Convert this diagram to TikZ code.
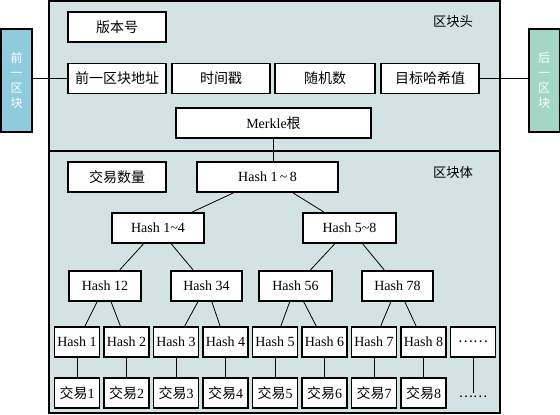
\documentclass[tikz,border=0pt]{standalone}
\usepackage{fontspec}
\setmainfont{Liberation Serif}
\newfontfamily\cjk{Noto Sans CJK SC}
\usepackage{tikz}
\usetikzlibrary{positioning,calc}
\definecolor{panelbg}{HTML}{D3E2E2}
\definecolor{prevblue}{HTML}{90CBDD}
\definecolor{nextgreen}{HTML}{A3D6C5}
\tikzset{
	panel/.style={draw=black, line width=1.5pt, fill=panelbg},
	fieldbox/.style={rectangle, draw=black, line width=1.4pt, fill=white,
		minimum width=73.5pt, minimum height=22.5pt, inner sep=0pt, align=center,
		font=\fontsize{10.5}{12}\selectfont},
	leafbox/.style={fieldbox, minimum width=33.75pt},
	chainbox/.style={rectangle, draw=black, line width=1.5pt, minimum width=23.25pt,
		minimum height=77.25pt, inner sep=0pt, align=center, text=white,
		font=\cjk\fontsize{9}{11.25}\selectfont},
	tag/.style={inner sep=0pt, font=\cjk\fontsize{10}{12}\selectfont},
	link/.style={draw=black, line width=0.6pt}
}

\begin{document}
\begin{tikzpicture}[x=0.75pt, y=-0.75pt]
	\useasboundingbox (0,0) rectangle (560,414);
	% block header and block body
	\draw[panel] (49,1) rectangle (500,151);
	\draw[panel] (49,151) rectangle (500,413);
	\node[tag] (headtag) at (453,22) {区块头};
	\node[tag] (bodytag) at (453,172) {区块体};
	% neighbouring blocks
	\node[chainbox, fill=prevblue] (prevblk) at (16.5,80.5) {前\\一\\区\\块};
	\node[chainbox, fill=nextgreen] (nextblk) at (544,80.5) {后\\一\\区\\块};
	% header fields
	\node[fieldbox] (ver) at (117,27) {\cjk 版本号};
	\node[fieldbox] (prev) at (117,78.5) {\cjk 前一区块地址};
	\node[fieldbox] (time) at (221,78.5) {\cjk 时间戳};
	\node[fieldbox, minimum width=75pt] (nonce) at (325,78.5) {\cjk 随机数};
	\node[fieldbox] (target) at (430,78.5) {\cjk 目标哈希值};
	\node[fieldbox, minimum width=146.25pt] (merkle) at (273.5,123) {Merkle{\cjk 根}};
	\draw[link] (prev.west) -- (prev.west -| prevblk.east);
	\draw[link] (target.east) -- (target.east -| nextblk.west);
	% merkle tree
	\node[fieldbox] (count) at (117,177) {\cjk 交易数量};
	\node[fieldbox, minimum width=105.75pt] (h18) at (267.5,177) {Hash 1\,\textasciitilde\,8};
	\node[fieldbox, minimum width=69pt] (h14) at (158,228) {Hash 1\textasciitilde4};
	\node[fieldbox, minimum width=69.75pt] (h58) at (349.5,228) {Hash 5\textasciitilde8};
	\node[fieldbox, minimum width=54pt] (h12) at (105,286) {Hash 12};
	\node[fieldbox, minimum width=53.25pt] (h34) at (206.5,286) {Hash 34};
	\node[fieldbox, minimum width=54.75pt] (h56) at (295.5,286) {Hash 56};
	\node[fieldbox, minimum width=53.25pt] (h78) at (397.5,286) {Hash 78};
	\node[leafbox] (l1) at (77,342) {Hash 1};
	\node[leafbox] (l2) at (126.5,342) {Hash 2};
	\node[leafbox] (l3) at (176,342) {Hash 3};
	\node[leafbox] (l4) at (225.5,342) {Hash 4};
	\node[leafbox] (l5) at (275,342) {Hash 5};
	\node[leafbox] (l6) at (324.5,342) {Hash 6};
	\node[leafbox] (l7) at (374,342) {Hash 7};
	\node[leafbox] (l8) at (423.5,342) {Hash 8};
	\node[leafbox] (lmore) at (473,342) {\cjk ……};
	\node[leafbox] (t1) at (77,393) {{\cjk 交易}1};
	\node[leafbox] (t2) at (126.5,393) {{\cjk 交易}2};
	\node[leafbox] (t3) at (176,393) {{\cjk 交易}3};
	\node[leafbox] (t4) at (225.5,393) {{\cjk 交易}4};
	\node[leafbox] (t5) at (275,393) {{\cjk 交易}5};
	\node[leafbox] (t6) at (324.5,393) {{\cjk 交易}6};
	\node[leafbox] (t7) at (374,393) {{\cjk 交易}7};
	\node[leafbox] (t8) at (423.5,393) {{\cjk 交易}8};
	\node[tag, inner sep=2pt] (tmore) at (473,397) {……};
	\draw[link] (merkle.south) -- (merkle.south |- h18.north);
	\draw[link] (h18) -- (h14);
	\draw[link] (h18) -- (h58);
	\draw[link] (h14) -- (h12);
	\draw[link] (h14) -- (h34);
	\draw[link] (h58) -- (h56);
	\draw[link] (h58) -- (h78);
	\draw[link] (h12) -- (l1);
	\draw[link] (h12) -- (l2);
	\draw[link] (h34) -- (l3);
	\draw[link] (h34) -- (l4);
	\draw[link] (h56) -- (l5);
	\draw[link] (h56) -- (l6);
	\draw[link] (h78) -- (l7);
	\draw[link] (h78) -- (l8);
	\draw[link] (l1) -- (t1);
	\draw[link] (l2) -- (t2);
	\draw[link] (l3) -- (t3);
	\draw[link] (l4) -- (t4);
	\draw[link] (l5) -- (t5);
	\draw[link] (l6) -- (t6);
	\draw[link] (l7) -- (t7);
	\draw[link] (l8) -- (t8);
	\draw[link] (lmore) -- (tmore);
\end{tikzpicture}
\end{document}
